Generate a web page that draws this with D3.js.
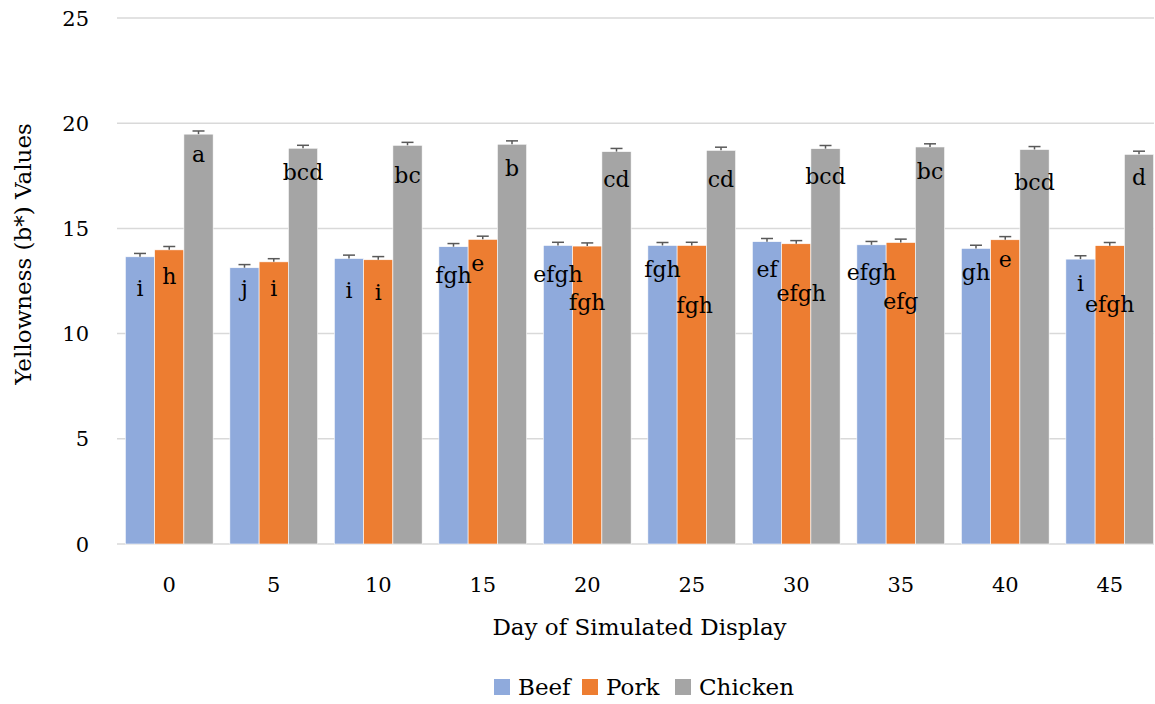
<!DOCTYPE html>
<html>
<head>
<meta charset="utf-8">
<script src="https://cdn.jsdelivr.net/npm/d3@7"></script>
<style>
  body { margin: 0; background: #fff; }
  svg text { font-family: "Palatino Linotype", "Book Antiqua", Palatino, "DejaVu Serif", serif; fill: #000; }
</style>
</head>
<body>
<svg id="chart"></svg>
<script>
const width = 1155;
const height = 704;

const days = ['0', '5', '10', '15', '20', '25', '30', '35', '40', '45'];
const series = ['Beef', 'Pork', 'Chicken'];
const colors = ['#8faadc', '#ed7d31', '#a5a5a5'];

const beef = [13.65, 13.13, 13.57, 14.13, 14.19, 14.19, 14.37, 14.22, 14.05, 13.54];
const pork = [13.98, 13.41, 13.51, 14.48, 14.16, 14.19, 14.27, 14.33, 14.46, 14.18];
const chicken = [19.48, 18.81, 18.95, 19.0, 18.65, 18.71, 18.79, 18.87, 18.75, 18.52];

const beefErr = [0.16, 0.15, 0.16, 0.15, 0.15, 0.14, 0.15, 0.16, 0.15, 0.16];
const porkErr = [0.16, 0.15, 0.15, 0.15, 0.15, 0.15, 0.15, 0.16, 0.15, 0.15];
const chickenErr = [0.15, 0.14, 0.14, 0.16, 0.15, 0.15, 0.15, 0.15, 0.14, 0.15];

// significance letters
const beefLetters = ['i', 'j', 'i', 'fgh', 'efgh', 'fgh', 'ef', 'efgh', 'gh', 'i'];
const porkLetters = ['h', 'i', 'i', 'e', 'fgh', 'fgh', 'efgh', 'efg', 'e', 'efgh'];
const chickenLetters = ['a', 'bcd', 'bc', 'b', 'cd', 'cd', 'bcd', 'bc', 'bcd', 'd'];

// where each letter's baseline sits, on the value axis
const beefLetterAt = [11.79, 11.79, 11.71, 12.42, 12.47, 12.67, 12.67, 12.55, 12.55, 12.03];
const porkLetterAt = [12.36, 11.79, 11.6, 12.99, 11.14, 10.96, 11.55, 11.16, 13.18, 11.04];
const chickenLetterAt = [18.16, 17.3, 17.18, 17.49, 16.99, 16.99, 17.1, 17.35, 16.83, 17.07];
const porkLetterDx = [0, 0, 0, -5, 0, 3, 5, 0, 0, 0];

const yTicks = [0, 5, 10, 15, 20, 25];

const values = [beef, pork, chicken];
const errs = [beefErr, porkErr, chickenErr];
const letters = [beefLetters, porkLetters, chickenLetters];
const letterAt = [beefLetterAt, porkLetterAt, chickenLetterAt];

const rows = [];
days.forEach(function(d, i) {
  series.forEach(function(s, j) {
    rows.push({
      day: d, name: s, k: j,
      value: values[j][i], err: errs[j][i],
      letter: letters[j][i], letterAt: letterAt[j][i],
      dx: j === 1 ? porkLetterDx[i] : 0
    });
  });
});

const plotLeft = 117, plotRight = 1162, axisEnd = 1154;

const x0 = d3.scaleBand()
  .domain(days)
  .range([plotLeft, plotRight])
  .paddingInner(0.16)
  .paddingOuter(0.08);
const x1 = d3.scaleBand()
  .domain(series)
  .range([0, x0.bandwidth()]);
const y = d3.scaleLinear()
  .domain([0, 25])
  .range([544, 18]);

const svg = d3.select('#chart')
  .attr('width', width)
  .attr('height', height);

// gridlines
svg.append('g')
  .selectAll('line')
  .data(yTicks)
  .join('line')
  .attr('x1', plotLeft)
  .attr('x2', axisEnd)
  .attr('y1', d => y(d))
  .attr('y2', d => y(d))
  .attr('stroke', '#d9d9d9')
  .attr('stroke-width', 1.5);

// y tick labels
svg.append('g')
  .selectAll('text')
  .data(yTicks)
  .join('text')
  .attr('x', 89)
  .attr('y', d => y(d))
  .attr('dy', '0.36em')
  .attr('text-anchor', 'end')
  .style('font-size', '21px')
  .text(d => d);

// bars
const bars = svg.append('g');
bars.selectAll('rect')
  .data(rows)
  .join('rect')
  .attr('x', d => x0(d.day) + x1(d.name))
  .attr('y', d => y(d.value))
  .attr('width', x1.bandwidth())
  .attr('height', d => y(0) - y(d.value))
  .attr('fill', d => colors[d.k])
  .attr('stroke', '#ffffff')
  .attr('stroke-width', 0.6);

// error bars
const eb = svg.append('g')
  .attr('stroke', '#595959')
  .attr('stroke-width', 1.5);
rows.forEach(function(d) {
  const cx = x0(d.day) + x1(d.name) + x1.bandwidth() / 2;
  eb.append('line')
    .attr('x1', cx).attr('x2', cx)
    .attr('y1', y(d.value)).attr('y2', y(d.value + d.err));
  eb.append('line')
    .attr('x1', cx - 6).attr('x2', cx + 6)
    .attr('y1', y(d.value + d.err)).attr('y2', y(d.value + d.err));
});

// significance letters
svg.append('g')
  .selectAll('text')
  .data(rows)
  .join('text')
  .attr('x', d => x0(d.day) + x1(d.name) + x1.bandwidth() / 2 + d.dx)
  .attr('y', d => y(d.letterAt))
  .attr('text-anchor', 'middle')
  .style('font-size', '22px')
  .text(d => d.letter);

// x tick labels
svg.append('g')
  .selectAll('text')
  .data(days)
  .join('text')
  .attr('x', d => x0(d) + x0.bandwidth() / 2)
  .attr('y', 592)
  .attr('text-anchor', 'middle')
  .style('font-size', '21px')
  .text(d => d);

// axis titles
svg.append('text')
  .attr('x', (plotLeft + plotRight) / 2)
  .attr('y', 635)
  .attr('text-anchor', 'middle')
  .style('font-size', '23px')
  .text('Day of Simulated Display');

svg.append('text')
  .attr('transform', 'translate(31,254) rotate(-90)')
  .attr('text-anchor', 'middle')
  .style('font-size', '23px')
  .text('Yellowness (b*) Values');

// legend
const legendX = [494, 582, 675];
const legend = svg.append('g');
series.forEach(function(s, j) {
  legend.append('rect')
    .attr('x', legendX[j])
    .attr('y', 679)
    .attr('width', 16)
    .attr('height', 16)
    .attr('fill', colors[j]);
  legend.append('text')
    .attr('x', legendX[j] + 24)
    .attr('y', 695)
    .style('font-size', '23px')
    .text(s);
});
</script>
</body>
</html>
